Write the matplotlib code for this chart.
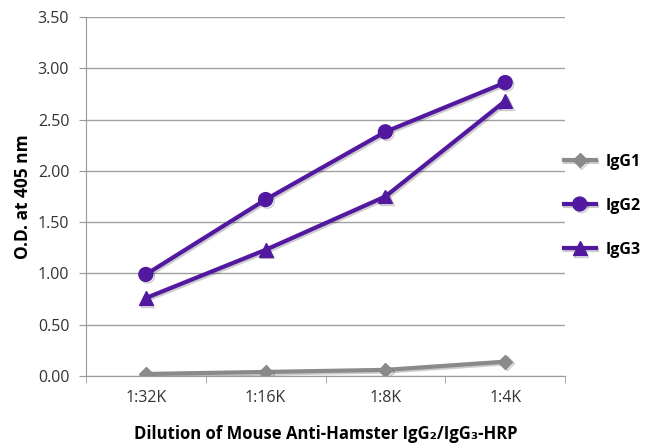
import matplotlib
matplotlib.use("Agg")
import matplotlib.pyplot as plt
import matplotlib.patheffects as pe

categories = ["1:32K", "1:16K", "1:8K", "1:4K"]
igg1 = [0.02, 0.04, 0.06, 0.14]
igg2 = [0.99, 1.72, 2.38, 2.86]
igg3 = [0.76, 1.23, 1.75, 2.68]
yticks = [0.0, 0.5, 1.0, 1.5, 2.0, 2.5, 3.0, 3.5]

plt.rcParams['font.family'] = ['Open Sans', 'DejaVu Sans']

fig = plt.figure(figsize=(6.51, 4.45), dpi=100)
ax = fig.add_axes([0.132, 0.155, 0.736, 0.807])

x = list(range(len(categories)))
gray = "#8a8a8a"
purple = "#5318a0"
shadow = [pe.SimpleLineShadow(offset=(1.2, -1.2), alpha=0.2, shadow_color="black"), pe.Normal()]

ax.plot(x, igg1, color=gray, lw=3, marker="D", ms=7, label="IgG1", path_effects=shadow, zorder=3)
ax.plot(x, igg2, color=purple, lw=3, marker="o", ms=10, label="IgG2", path_effects=shadow, zorder=4)
ax.plot(x, igg3, color=purple, lw=3, marker="^", ms=10, label="IgG3", path_effects=shadow, zorder=4)

ax.set_xlim(-0.5, len(categories) - 0.5)
ax.set_ylim(0, 3.5)
ax.set_yticks(yticks)
ax.set_yticklabels([f"{v:.2f}" for v in yticks], fontsize=11.5, color="#333333")
ax.set_xticks(x)
ax.set_xticklabels(categories, fontsize=11.5, color="#333333")
ax.set_xticks([i + 0.5 for i in range(-1, len(categories))], minor=True)
ax.tick_params(axis="x", which="major", length=0, pad=10)
ax.tick_params(axis="x", which="minor", length=5, color="#999999")
ax.tick_params(axis="y", length=5, color="#999999", pad=7)

ax.grid(axis="y", color="#a0a0a0", lw=1)
ax.set_axisbelow(True)
for s in ["top", "right"]:
    ax.spines[s].set_visible(False)
for s in ["left", "bottom"]:
    ax.spines[s].set_color("#999999")

ax.set_ylabel("O.D. at 405 nm", fontsize=12.5, fontweight="bold", labelpad=4)
ax.set_xlabel("Dilution of Mouse Anti-Hamster IgG₂/IgG₃-HRP", fontsize=12, fontweight="bold", labelpad=14)

leg = fig.legend(loc="center left", bbox_to_anchor=(0.866, 0.538), frameon=False,
                 borderpad=0, borderaxespad=0, handlelength=2.0, handletextpad=0.6,
                 labelspacing=1.75, prop={"weight": "bold", "size": 11.5})
fig.savefig("out.png", dpi=100)
